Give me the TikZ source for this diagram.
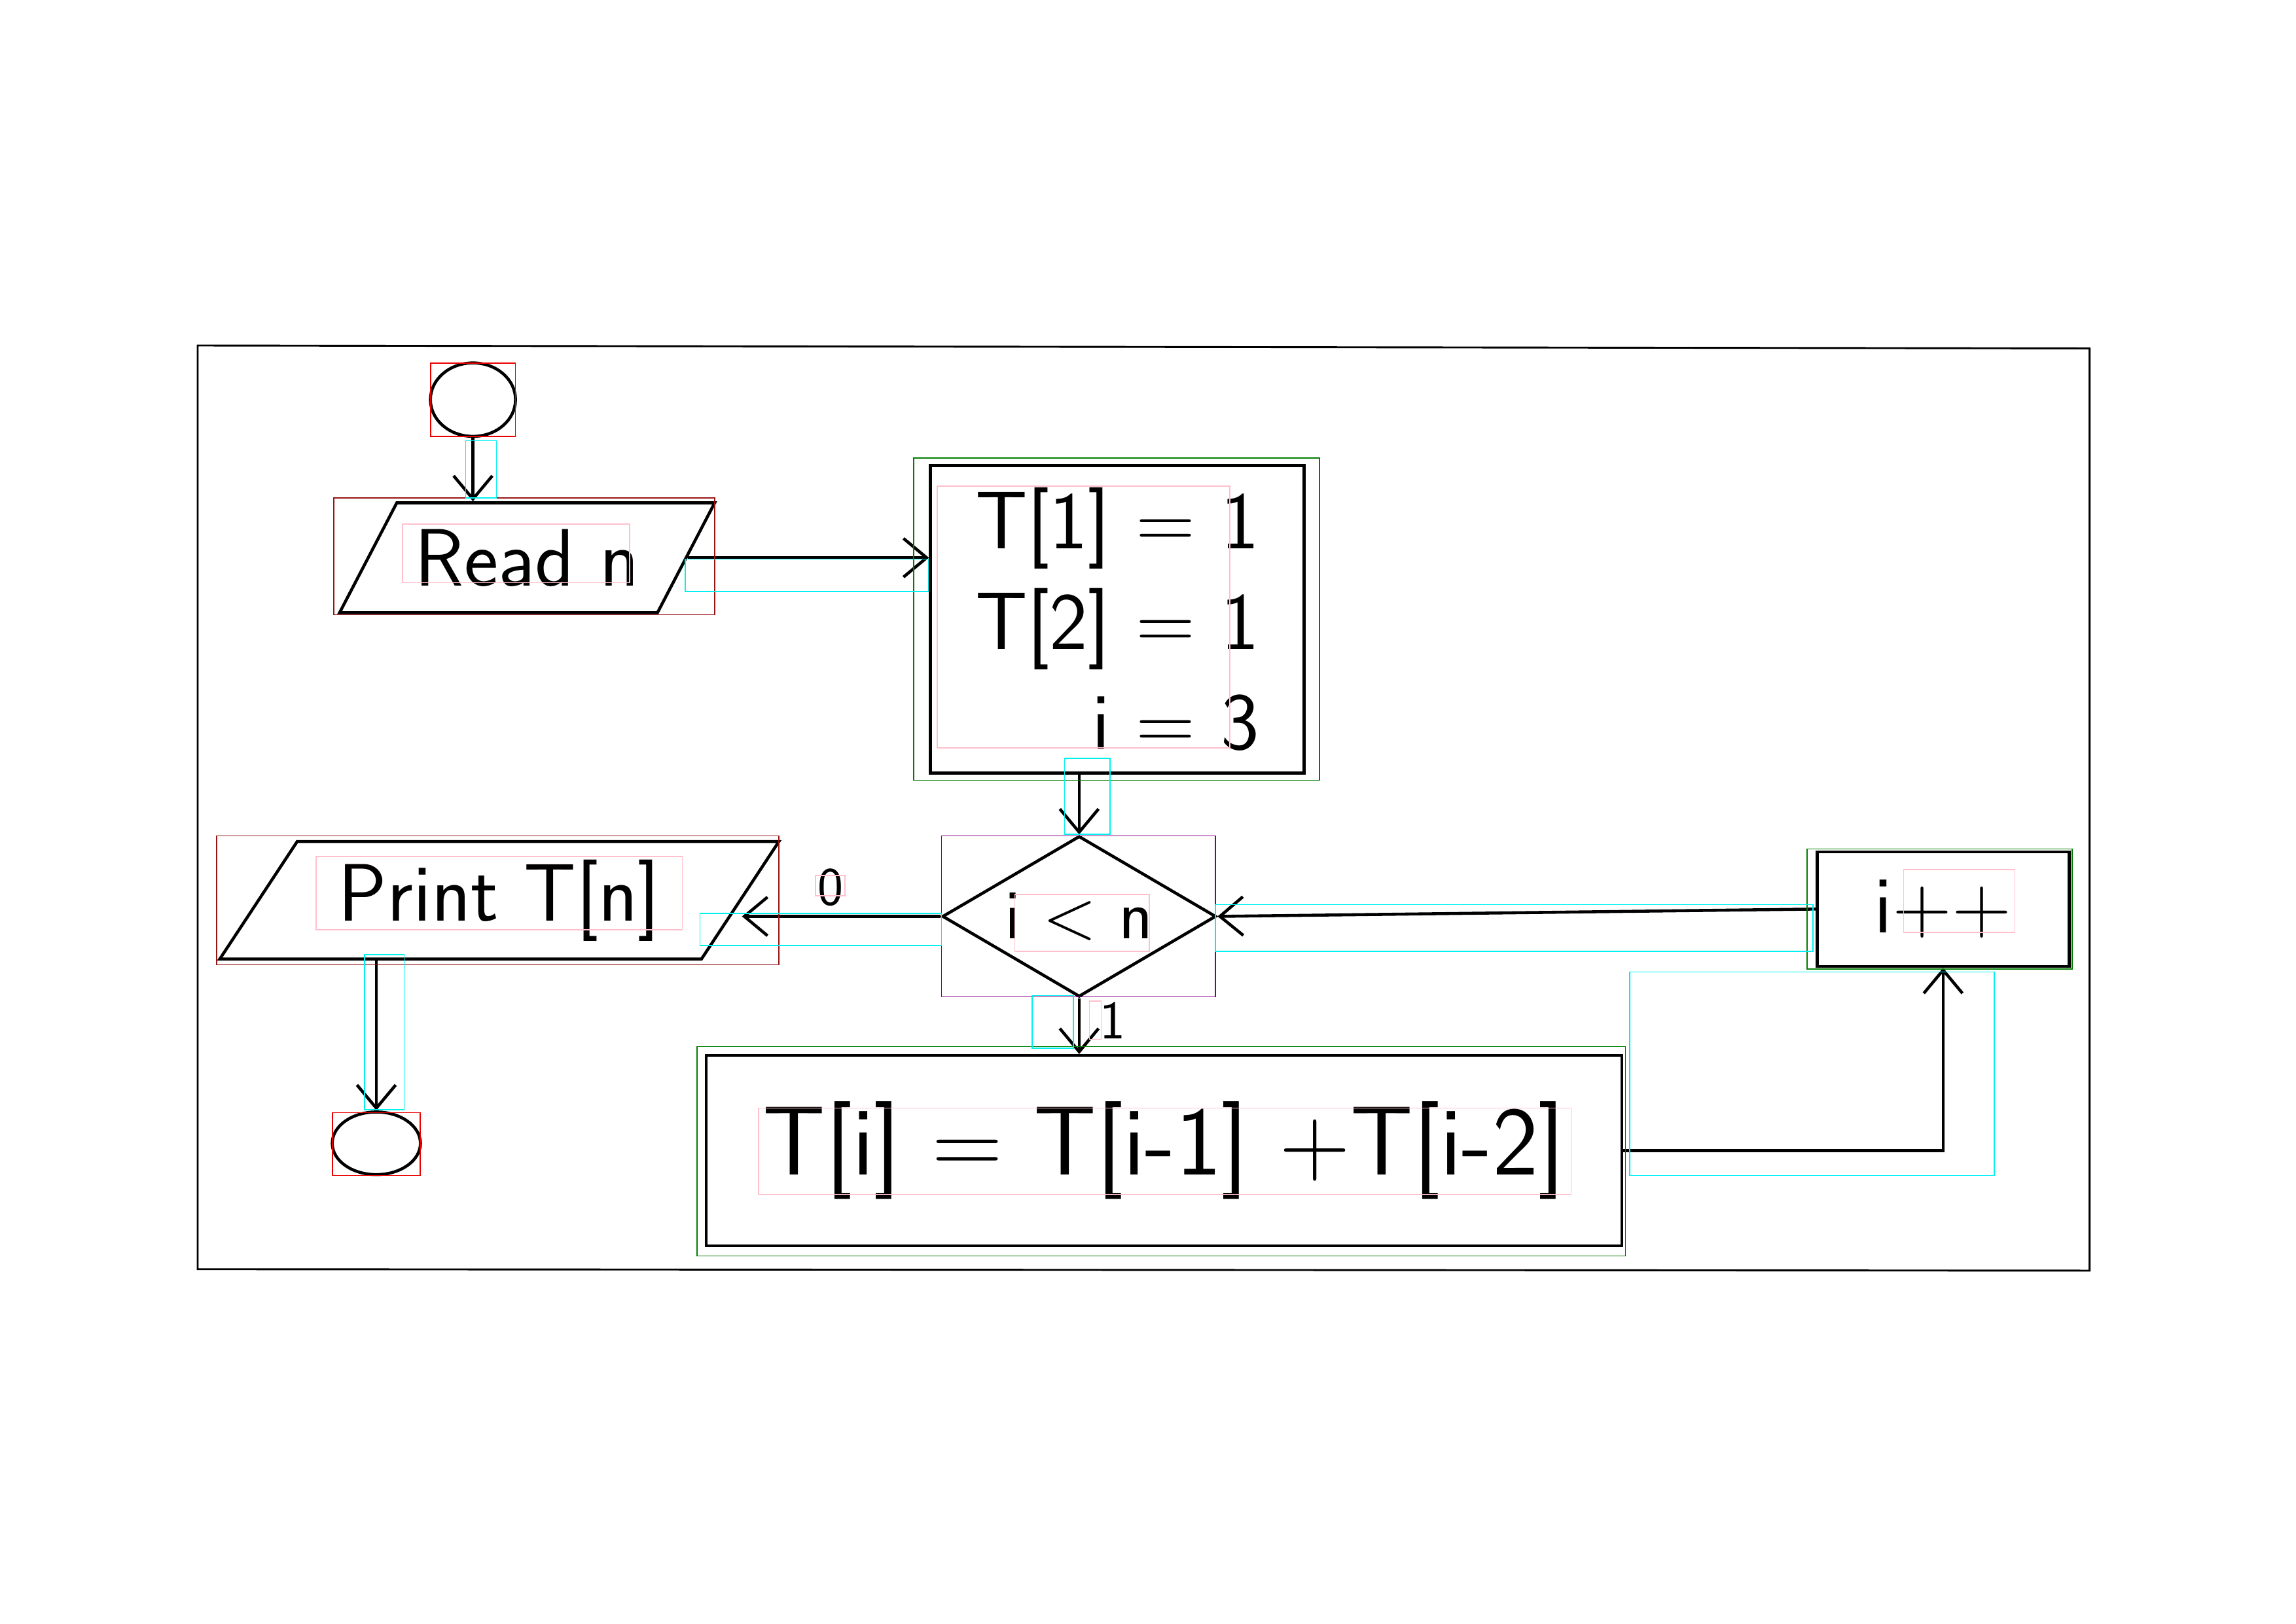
\documentclass[tikz,border=0pt]{standalone}
\usepackage{tikz}
\usetikzlibrary{arrows.meta, shapes.geometric}
\definecolor{bbred}{RGB}{235,0,0}
\definecolor{bbdark}{RGB}{150,20,20}
\definecolor{bbgreen}{RGB}{0,125,0}
\definecolor{bbpurple}{RGB}{128,0,128}
\definecolor{bbcyan}{RGB}{0,240,240}
\definecolor{bbpink}{RGB}{255,192,203}

\begin{document}
\begin{tikzpicture}[
  x=0.01894cm, y=-0.01894cm,
  >={Straight Barb[length=3mm,width=5mm]},
  line width=1.1pt,
  txt/.style={font=\fontsize{30}{37}\selectfont\sffamily},
  term/.style={draw, ellipse, inner sep=0pt},
  io/.style={draw, trapezium, trapezium left angle=50, trapezium right angle=130,
             trapezium stretches body, inner sep=2pt, txt},
  proc/.style={draw, rectangle, inner sep=2pt, align=right, txt},
  cond/.style={draw, diamond, shape aspect=1.7, inner sep=0pt, txt},
  lbl/.style={font=\fontsize{20}{24}\selectfont\sffamily},
  ar/.style={->},
  bb/.style={draw=#1, line width=0.4pt},
]
\useasboundingbox (0,0) rectangle (1568,1109);

% sheet frame
\draw[line width=0.7pt] (135,236) -- (1427,238) -- (1427,868) -- (135,867) -- cycle;

% ===================== flowchart =====================
\node[term, minimum width=1.10cm, minimum height=0.95cm] (start) at (323,273) {};
\node[io, minimum width=4.85cm, minimum height=1.42cm] (read) at (360,381) {Read n};
\node[proc, minimum width=4.83cm, minimum height=3.98cm] (init) at (763,423) {T[1] = 1\\T[2] = 1\\i = 3};
\node[cond, minimum width=3.54cm, minimum height=2.08cm,
      font=\fontsize{26}{30}\selectfont\sffamily] (test) at (737,626) {i < n};
\node[io, minimum width=7.23cm, minimum height=1.52cm] (print) at (341,615) {Print T[n]};
\node[term, minimum width=1.14cm, minimum height=0.81cm] (stop) at (257,781) {};
\node[proc, minimum width=11.84cm, minimum height=2.46cm,
      font=\fontsize{36}{40}\selectfont\sffamily] (comp) at (795,786) {T[i] = T[i-1] +T[i-2]};
\node[proc, minimum width=3.26cm, minimum height=1.48cm] (inc) at (1327,621) {i++};
\node[lbl] (no) at (567,606) {0};
\node[lbl] (yes) at (760,697) {1};

\draw[ar] (start.south) -- (start.south |- read.north);
\draw[ar] (read.east) -- (read.east -| init.west);
\draw[ar] (init.south -| test.north) -- (test.north);
\draw[ar] (test.west) -- (test.west -| print.east);
\draw[ar] (print.south -| stop.north) -- (stop.north);
\draw[ar] (test.south) -- (test.south |- comp.north);
\draw[ar] (comp.east) -| (inc.south);
\draw[ar] (inc.west) -- (test.east);

% ===================== detection boxes =====================
\draw[bb=bbred] (294,248) rectangle (352,298);
\draw[bb=bbdark] (228,340) rectangle (488,420);
\draw[bb=bbdark] (148,571) rectangle (532,659);
\draw[bb=bbred] (227,760) rectangle (287,803);
\draw[bb=bbgreen] (624,313) rectangle (901,533);
\draw[bb=bbgreen] (476,715) rectangle (1110,858);
\draw[bb=bbgreen] (1234,580) rectangle (1415,662);
\draw[bb=bbpurple] (643,571) rectangle (830,681);
% arrows
\draw[bb=bbcyan] (318,301) rectangle (339,340);
\draw[bb=bbcyan] (468,382) rectangle (634,404);
\draw[bb=bbcyan] (727,518) rectangle (758,570);
\draw[bb=bbcyan] (478,624) rectangle (643,646);
\draw[bb=bbcyan] (249,652) rectangle (276,758);
\draw[bb=bbcyan] (705,680) rectangle (733,716);
\draw[bb=bbcyan] (830,618) rectangle (1238,650);
\draw[bb=bbcyan] (1113,664) rectangle (1362,803);
% texts
\draw[bb=bbpink] (275,358) rectangle (430,398);
\draw[bb=bbpink] (640,332) rectangle (840,511);
\draw[bb=bbpink] (557,598) rectangle (577,612);
\draw[bb=bbpink] (216,585) rectangle (466,635);
\draw[bb=bbpink] (693,611) rectangle (785,650);
\draw[bb=bbpink] (744,684) rectangle (752,710);
\draw[bb=bbpink] (518,757) rectangle (1073,816);
\draw[bb=bbpink] (1300,594) rectangle (1376,637);
\end{tikzpicture}
\end{document}
